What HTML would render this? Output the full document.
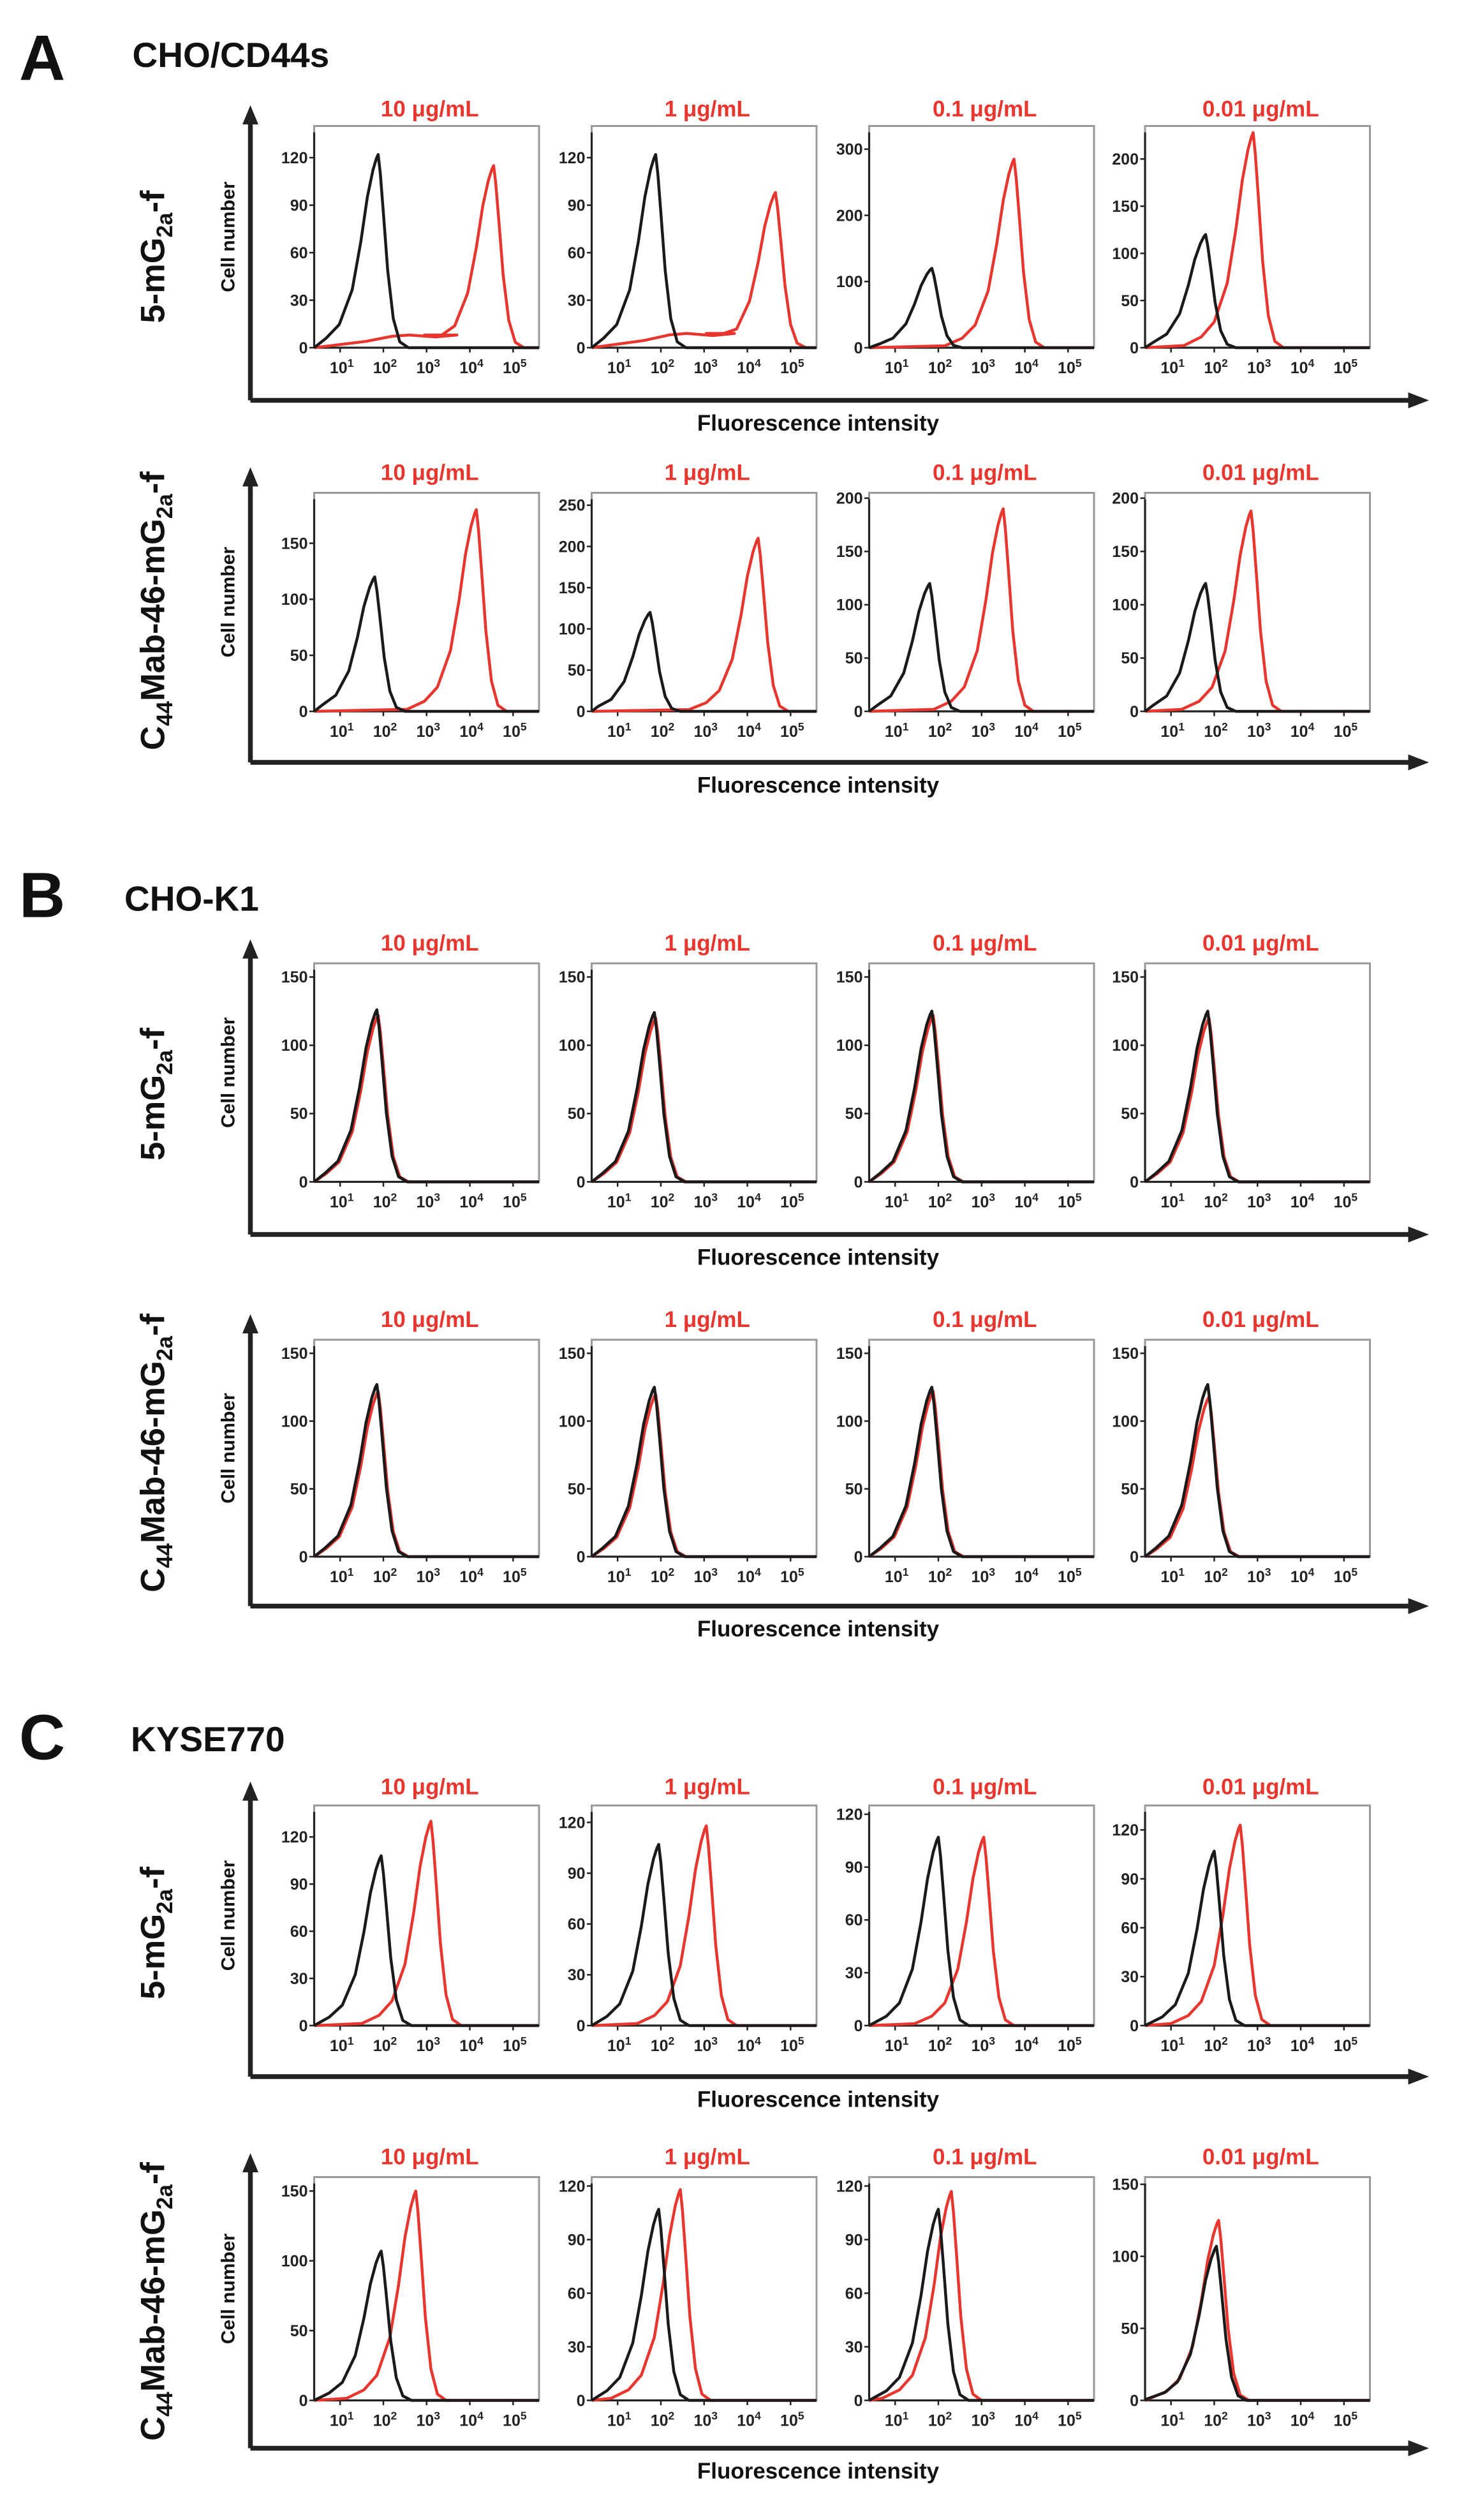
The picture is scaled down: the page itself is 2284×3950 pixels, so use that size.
<!DOCTYPE html>
<html><head><meta charset="utf-8"><style>
html,body{margin:0;padding:0;background:#fff;}
svg{display:block;font-family:"Liberation Sans",Arial,sans-serif;}
</style></head><body>
<svg id="fig" width="2284" height="3950" viewBox="0 0 913.6 1580" xmlns="http://www.w3.org/2000/svg"></svg>
<script>
// ---- data ----
const concentrations = ["10 μg/mL","1 μg/mL","0.1 μg/mL","0.01 μg/mL"];
const panelLetters = ["A","B","C"];
const cellLines = ["CHO/CD44s","CHO-K1","KYSE770"];
// per row: y-axis max, tick step, tick max
const rowYMax = [[140,140,335,235],[195,265,205,205],[160,160,160,160],[160,160,160,160],[140,130,125,135],[160,125,125,155]];
const rowTickStep = [[30,30,100,50],[50,50,50,50],[50,50,50,50],[50,50,50,50],[30,30,30,30],[50,30,30,50]];
const rowTickMax = [[120,120,300,200],[150,250,200,200],[150,150,150,150],[150,150,150,150],[120,120,120,120],[150,120,120,150]];
// peak positions (log10 intensity) and heights
const blackPeakPos = [[1.88,1.88,1.85,1.8],[1.8,1.75,1.8,1.8],[1.85,1.85,1.85,1.85],[1.85,1.85,1.85,1.85],[1.95,1.95,2.0,2.0],[1.95,1.95,2.0,2.05]];
const blackPeakH = [[122,122,120,120],[120,120,120,120],[126,124,125,125],[127,125,125,127],[108,107,107,107],[107,107,107,107]];
const redPeakPos = [[4.55,4.65,3.75,2.9],[4.15,4.25,3.5,2.85],[1.88,1.88,1.88,1.88],[1.88,1.88,1.88,1.88],[3.1,3.05,3.05,2.6],[2.75,2.45,2.3,2.1]];
const redPeakH = [[115,98,285,228],[180,210,190,188],[122,120,122,120],[122,120,122,118],[130,118,107,123],[150,118,117,125]];
const redPlateau = [[8,9,0,0],[0,0,0,0],[0,0,0,0],[0,0,0,0],[0,0,0,0],[0,0,0,0]];
// normalized histogram profile: [decade offset, relative height]
const profileOffset = [-1.6,-1.2,-0.9,-0.6,-0.4,-0.25,-0.12,-0.04,0,0.05,0.12,0.22,0.35,0.5,0.7];
const profileHeight = [0.01,0.05,0.12,0.3,0.55,0.78,0.92,0.98,1,0.9,0.7,0.4,0.15,0.03,0];
const rowLabels = ["5-mG2a-f","C44Mab-46-mG2a-f"];

// ---- layout ----
const NS="http://www.w3.org/2000/svg";
const svg=document.getElementById('fig');
function el(tag,attrs,parent){const e=document.createElementNS(NS,tag);for(const k in attrs)e.setAttribute(k,attrs[k]);(parent||svg).appendChild(e);return e;}
const colX=[197,371,545,718], boxW=141;
const baseGeom=[
 {t:78,b:217,ay:250,top:65,title:72,lab:160},
 {t:306,b:443,ay:475,top:290,title:298,lab:380},
 {t:598,b:735,ay:768,top:583,title:590,lab:680},
 {t:834,b:970,ay:1001,top:818,title:826,lab:905},
 {t:1120,b:1258,ay:1290,top:1105,title:1113,lab:1200},
 {t:1352,b:1492,ay:1522,top:1337,title:1344,lab:1430}];
const rowShift=[1,3,6,6,12,13];
const rowGeom=baseGeom.map((g,i)=>{const o={};for(const k in g)o[k]=g[k]+rowShift[i];return o;});
const sectionY=[[50,42],[575,571],[1103,1098]];
const sectionX=[[12,83],[12,78],[12,82]];
const logMin=0.4, logMax=5.6;

sectionY.forEach((sy,i)=>{
  const a=el('text',{x:sectionX[i][0],y:sy[0],'font-size':40,'font-weight':'bold',fill:'#111'});a.textContent=panelLetters[i];
  
  
  const c=el('text',{x:sectionX[i][1],y:sy[1],'font-size':22,'font-weight':'bold',fill:'#111'});c.textContent=cellLines[i];
  
  
});

function curvePath(xs,ys){return xs.map((x,i)=>(i?'L':'M')+x.toFixed(2)+','+ys[i].toFixed(2)).join('');}

rowGeom.forEach((g,r)=>{
  const ax=157;
  const grp=el('g',{});
  
  
  el('path',{d:`M${ax},${g.ay} L${ax},${g.top+10}`,stroke:'#222','stroke-width':3,fill:'none'},grp);
  el('path',{d:`M${ax-5},${g.top+12} L${ax},${g.top} L${ax+5},${g.top+12}Z`,fill:'#222'},grp);
  el('path',{d:`M${ax},${g.ay} L${885},${g.ay}`,stroke:'#222','stroke-width':3,fill:'none'},grp);
  el('path',{d:`M${883},${g.ay-5} L${896},${g.ay} L${883},${g.ay+5}Z`,fill:'#222'},grp);
  const fl=el('text',{x:513,y:g.ay+19,'font-size':14,'font-weight':'bold','text-anchor':'middle',fill:'#111'},grp);fl.textContent='Fluorescence intensity';
  
  
  const cn=el('text',{x:0,y:0,'font-size':12,'font-weight':'bold','text-anchor':'middle',fill:'#111',transform:`translate(147,${(g.t+g.b)/2}) rotate(-90)`},grp);cn.textContent='Cell number';
  
  
  const rl=el('text',{x:0,y:0,'font-size':21,'font-weight':'bold','text-anchor':'middle',fill:'#111',transform:`translate(103,${g.lab}) rotate(-90)`},grp);
  
  
  if(r%2===0){rl.innerHTML='5-mG<tspan font-size="14" dy="5">2a</tspan><tspan dy="-5">-f</tspan>';}
  else{rl.innerHTML='C<tspan font-size="14" dy="5">44</tspan><tspan dy="-5">Mab-46-mG</tspan><tspan font-size="14" dy="5">2a</tspan><tspan dy="-5">-f</tspan>';}

  colX.forEach((x0,c)=>{
    const pg=el('g',{},grp);
    
    
    const ymax=rowYMax[r][c];
    const X=v=>x0+(v-logMin)/(logMax-logMin)*boxW;
    const Y=v=>g.b-v/ymax*(g.b-g.t);
    const tt=el('text',{x:x0+boxW/2+2,y:g.title,'font-size':14,'font-weight':'bold','text-anchor':'middle',fill:'#e8362f'},pg);tt.textContent=concentrations[c];
    
    
    el('rect',{x:x0,y:g.t,width:boxW,height:g.b-g.t,fill:'none',stroke:'#999','stroke-width':1.2},pg);
    el('line',{x1:x0,y1:g.t+4,x2:x0,y2:g.b,stroke:'#222','stroke-width':1.3},pg);
    el('line',{x1:x0,y1:g.b,x2:x0+boxW,y2:g.b,stroke:'#222','stroke-width':1.3},pg);
    for(let v=0;v<=rowTickMax[r][c];v+=rowTickStep[r][c]){
      el('line',{x1:x0-3,y1:Y(v),x2:x0,y2:Y(v),stroke:'#222','stroke-width':1},pg);
      const tl=el('text',{x:x0-4,y:Y(v)+3.5,'font-size':10,'font-weight':'bold','text-anchor':'end',fill:'#222'},pg);tl.textContent=v;
      
      
    }
    for(let d=1;d<=5;d++){
      el('line',{x1:X(d),y1:g.b,x2:X(d),y2:g.b+3,stroke:'#222','stroke-width':1},pg);
      const xl=el('text',{x:X(d)+1,y:g.b+16,'font-size':10,'font-weight':'bold','text-anchor':'middle',fill:'#222'},pg);
      xl.innerHTML='10<tspan font-size="7" dy="-4">'+d+'</tspan>';
      
      
    }
    const series=[['red',redPeakPos[r][c],redPeakH[r][c],redPlateau[r][c],'#e8362f'],['black',blackPeakPos[r][c],blackPeakH[r][c],0,'#1a1a1a']];
    series.forEach(s=>{
      const xs=[X(logMin)],ys=[Y(0)];
      if(s[3]>0){
        [[1.6,0.5],[2.2,0.9],[2.6,1],[3.2,0.85],[3.7,1]].forEach(p=>{xs.push(X(p[0]));ys.push(Y(p[1]*s[3]));});
      }
      profileOffset.forEach((o,i)=>{
        const lx=s[1]+o; if(lx<logMin) return;
        let v=profileHeight[i]*s[2];
        if(s[3]>0 && o<0) v=Math.max(v,s[3]);
        xs.push(X(lx));ys.push(Y(v));
      });
      xs.push(X(logMax));ys.push(Y(0));
      const p=el('path',{d:curvePath(xs,ys),fill:'none',stroke:s[4],'stroke-width':1.8,'stroke-linejoin':'round'},pg);
      
      
    });
  });
});
</script>
</body></html>
